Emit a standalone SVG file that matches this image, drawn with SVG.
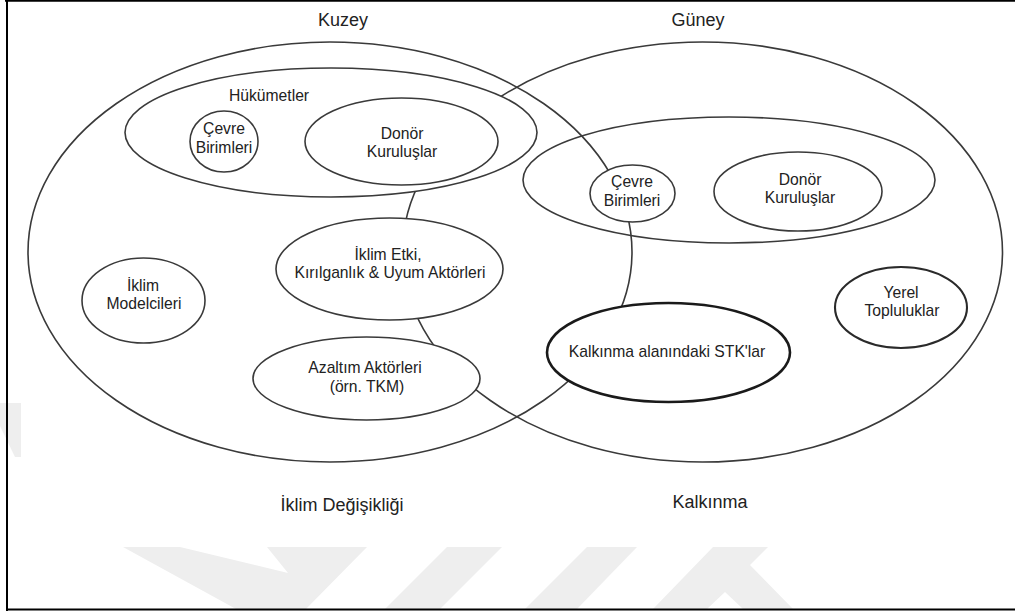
<svg xmlns="http://www.w3.org/2000/svg" width="1015" height="611" viewBox="0 0 1015 611">
  <style>
    .e { fill: none; stroke: #3a3a3a; stroke-width: 1.6; }
    .w { fill: #ffffff; stroke: #3a3a3a; stroke-width: 1.6; }
    .bold { stroke: #1a1a1a; stroke-width: 2.6; }
    .mid { stroke: #2a2a2a; stroke-width: 2.1; }
    text { font-family: "Liberation Sans", Arial, sans-serif; fill: #222; text-anchor: middle; }
    .t { font-size: 15.7px; }
    .big { font-size: 18px; }
    .wm { fill: #eeeeee; stroke: none; }
  </style>
  <rect x="0" y="0" width="1015" height="611" fill="#ffffff"/>

  <g id="watermark">
    <polygon class="wm" points="0,403 21,403 21,457 15,457 0,426"/>
    <polygon class="wm" points="123,547 180,547 288,573 267,547 367,547 306,609 236,609"/>
    <polygon class="wm" points="447,547 502,547 440,609 385,609"/>
    <polygon class="wm" points="587,547 637,547 577,609 525,609"/>
    <polygon class="wm" points="713,547 768,547 750,565 793,609 743,609 725,592 707,609 653,609"/>
  </g>

  <g id="frame" stroke="#000" stroke-width="2" fill="none">
    <line x1="5" y1="0.8" x2="1015" y2="0.8"/>
    <line x1="7" y1="0" x2="7" y2="611"/>
    <line x1="6" y1="609.5" x2="1015" y2="609.5"/>
  </g>

  <g id="south-gov">
    <ellipse class="e" cx="729" cy="180" rx="206" ry="63"/>
  </g>

  <g id="iklim-degisikligi">
    <ellipse class="e" cx="330" cy="252" rx="302" ry="210"/>
    <text class="big" x="342" y="511">İklim Değişikliği</text>
  </g>

  <g id="kalkinma">
    <ellipse class="e" cx="702.5" cy="252" rx="300" ry="210"/>
    <text class="big" x="710" y="508">Kalkınma</text>
  </g>

  <g id="labels-top">
    <text class="big" x="343" y="26">Kuzey</text>
    <text class="big" x="698" y="26">Güney</text>
  </g>

  <g id="hukumetler">
    <ellipse class="w" cx="331" cy="132.5" rx="206" ry="64.5"/>
    <text class="t" x="269" y="101">Hükümetler</text>
  </g>

  <g id="cevre-kuzey">
    <ellipse class="w" cx="224" cy="141.5" rx="34" ry="30.5"/>
    <text class="t" x="224" y="134">Çevre</text>
    <text class="t" x="224" y="152.5">Birimleri</text>
  </g>

  <g id="donor-kuzey">
    <ellipse class="w" cx="401.5" cy="141.5" rx="96.5" ry="43.5"/>
    <text class="t" x="402" y="139">Donör</text>
    <text class="t" x="402" y="157">Kuruluşlar</text>
  </g>

  <g id="iklim-etki">
    <ellipse class="w" cx="389.5" cy="269" rx="113.5" ry="51"/>
    <text class="t" x="388" y="260">İklim Etki,</text>
    <text class="t" x="390" y="278">Kırılganlık &amp; Uyum Aktörleri</text>
  </g>

  <g id="iklim-modelcileri">
    <ellipse class="w" cx="143.5" cy="300.5" rx="61.5" ry="42.5"/>
    <text class="t" x="143" y="290.5">İklim</text>
    <text class="t" x="144" y="309">Modelcileri</text>
  </g>

  <g id="azaltim">
    <ellipse class="w" cx="366.5" cy="378.5" rx="113.5" ry="41.5"/>
    <text class="t" x="365" y="373">Azaltım Aktörleri</text>
    <text class="t" x="367" y="392">(örn. TKM)</text>
  </g>

  <g id="cevre-guney">
    <ellipse class="w" cx="632.5" cy="193.5" rx="42.5" ry="28.5"/>
    <text class="t" x="632" y="187">Çevre</text>
    <text class="t" x="632" y="206">Birimleri</text>
  </g>

  <g id="donor-guney">
    <ellipse class="w" cx="798" cy="191.5" rx="84" ry="39.5"/>
    <text class="t" x="800" y="185">Donör</text>
    <text class="t" x="800" y="203">Kuruluşlar</text>
  </g>

  <g id="yerel">
    <ellipse class="w mid" cx="901" cy="307.5" rx="66" ry="40.5"/>
    <text class="t" x="901" y="298">Yerel</text>
    <text class="t" x="902" y="316">Topluluklar</text>
  </g>

  <g id="stk">
    <ellipse class="w bold" cx="668.5" cy="352.5" rx="121.5" ry="49.5"/>
    <text class="t" x="667" y="357">Kalkınma alanındaki STK'lar</text>
  </g>
</svg>
